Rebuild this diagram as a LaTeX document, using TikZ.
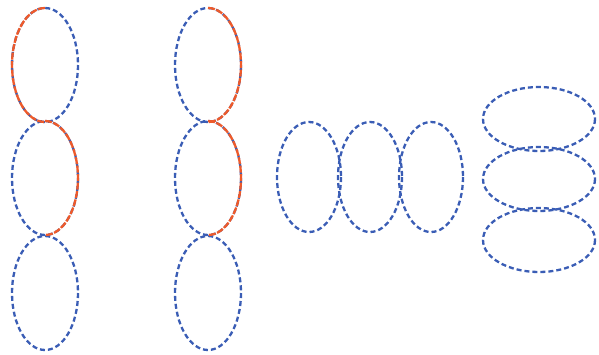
\documentclass[tikz,border=0pt]{standalone}
\definecolor{eblue}{HTML}{3A5DB5}
\definecolor{eorange}{HTML}{EE5A2A}
\tikzset{
  dashring/.style={draw=eblue, line width=2.3pt, dash pattern=on 5pt off 3pt},
  hilite/.style={draw=eorange, line width=2.3pt, dash pattern=on 7pt off 1.5pt}
}
\begin{document}
\begin{tikzpicture}[x=1pt,y=-1pt]
\useasboundingbox (0,0) rectangle (599,354);
% group 1
\foreach \cy in {65,178,293} \draw[dashring] (45,\cy) ellipse [x radius=33, y radius=57];
\draw[hilite] (45,8) arc[start angle=-90, end angle=-270, x radius=33, y radius=57];
\draw[hilite] (45,121) arc[start angle=-90, end angle=90, x radius=33, y radius=57];
% group 2
\foreach \cy in {65,178,293} \draw[dashring] (208,\cy) ellipse [x radius=33, y radius=57];
\draw[hilite] (208,8) arc[start angle=-90, end angle=90, x radius=33, y radius=57];
\draw[hilite] (208,121) arc[start angle=-90, end angle=90, x radius=33, y radius=57];
% group 3
\foreach \cx in {309,370,431} \draw[dashring] (\cx,177) ellipse [x radius=32, y radius=55];
% group 4
\foreach \cy in {119,179,240} \draw[dashring] (539,\cy) ellipse [x radius=56, y radius=32];
\end{tikzpicture}
\end{document}
